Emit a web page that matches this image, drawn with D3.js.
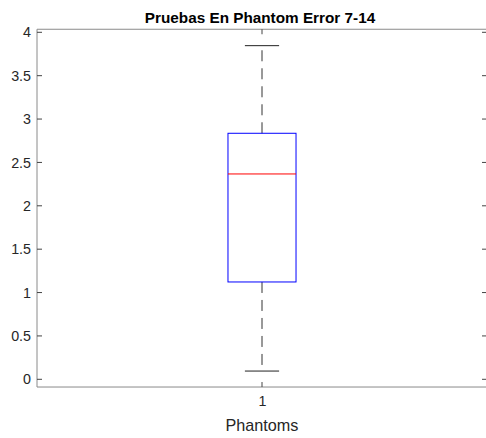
<!DOCTYPE html>
<html>
<head>
<meta charset="utf-8">
<script src="https://cdn.jsdelivr.net/npm/d3@7"></script>
<style>
	body { margin: 0; background: #fff; }
	svg { display: block; font-family: 'Liberation Sans', Arial, sans-serif; }
</style>
</head>
<body>
<div id="chart"></div>
<script>
'use strict';

// box plot values
var categories = ['1'];
var whiskerLow = [0.095];
var quartile1 = [1.122];
var medians = [2.367];
var quartile3 = [2.836];
var whiskerHigh = [3.846];

var yTicks = [0, 0.5, 1, 1.5, 2, 2.5, 3, 3.5, 4];
var yLimits = [-0.089, 4.035];
var xLimits = [0.5, 1.5];

var width = 486;
var height = 438;

var svg = d3.select('#chart').append('svg')
	.attr('width', width)
	.attr('height', height);

var x = d3.scaleLinear().domain(xLimits).range([37, 487]);
var y = d3.scaleLinear().domain([0, 4]).range([379.3, 32.3]);

var frameTop = y(yLimits[1]);
var frameBottom = y(yLimits[0]);
var axisColor = '#8a8a8a';
var textColor = '#262626';
var tickFont = '14.3px';

// frame
svg.append('line').attr('x1', x(xLimits[0])).attr('x2', x(xLimits[1]))
	.attr('y1', frameTop).attr('y2', frameTop).attr('stroke', axisColor);
svg.append('line').attr('x1', x(xLimits[0])).attr('x2', x(xLimits[1]))
	.attr('y1', frameBottom).attr('y2', frameBottom).attr('stroke', axisColor);
svg.append('line').attr('x1', x(xLimits[0])).attr('x2', x(xLimits[0]))
	.attr('y1', frameTop).attr('y2', frameBottom).attr('stroke', axisColor);

// y ticks, inward on both sides
var yAxis = d3.axisLeft(y).tickValues(yTicks).tickSize(0).tickPadding(0)
	.tickFormat(function (d) { return d; });

var yAxisGroup = svg.append('g')
	.attr('transform', 'translate(' + (x(xLimits[0]) - 6) + ',0)')
	.call(yAxis);
yAxisGroup.select('.domain').remove();
yAxisGroup.selectAll('text')
	.attr('fill', textColor)
	.style('font-size', tickFont)
	.style('font-family', "'Liberation Sans', Arial, sans-serif");

svg.selectAll('line.ytick-left').data(yTicks).enter().append('line')
	.attr('class', 'ytick-left')
	.attr('x1', x(xLimits[0])).attr('x2', x(xLimits[0]) + 5)
	.attr('y1', function (d) { return y(d); })
	.attr('y2', function (d) { return y(d); })
	.attr('stroke', '#444');

svg.selectAll('line.ytick-right').data(yTicks).enter().append('line')
	.attr('class', 'ytick-right')
	.attr('x1', x(xLimits[1]) - 5).attr('x2', x(xLimits[1]))
	.attr('y1', function (d) { return y(d); })
	.attr('y2', function (d) { return y(d); })
	.attr('stroke', '#444');

// x tick
var xAxis = d3.axisBottom(x).tickValues([1]).tickSize(0).tickPadding(0)
	.tickFormat(function (d, i) { return categories[i]; });

var xAxisGroup = svg.append('g')
	.attr('transform', 'translate(0,' + (frameBottom + 9) + ')')
	.call(xAxis);
xAxisGroup.select('.domain').remove();
xAxisGroup.selectAll('text')
	.attr('fill', textColor)
	.style('font-size', tickFont)
	.style('font-family', "'Liberation Sans', Arial, sans-serif");

svg.append('line').attr('x1', x(1)).attr('x2', x(1))
	.attr('y1', frameBottom).attr('y2', frameBottom - 5).attr('stroke', '#444');
svg.append('line').attr('x1', x(1)).attr('x2', x(1))
	.attr('y1', frameTop).attr('y2', frameTop + 5).attr('stroke', '#444');

// boxes
var boxHalf = 0.0756;
var capHalf = 0.038;

var box = svg.selectAll('.box').data(categories).enter().append('g').attr('class', 'box');

box.append('line') // upper whisker
	.attr('x1', function (d, i) { return x(i + 1); })
	.attr('x2', function (d, i) { return x(i + 1); })
	.attr('y1', function (d, i) { return y(quartile3[i]); })
	.attr('y2', function (d, i) { return y(whiskerHigh[i]); })
	.attr('stroke', '#333').attr('stroke-dasharray', '11,7');

box.append('line') // lower whisker
	.attr('x1', function (d, i) { return x(i + 1); })
	.attr('x2', function (d, i) { return x(i + 1); })
	.attr('y1', function (d, i) { return y(quartile1[i]); })
	.attr('y2', function (d, i) { return y(whiskerLow[i]); })
	.attr('stroke', '#333').attr('stroke-dasharray', '11,7');

box.append('line') // upper cap
	.attr('x1', function (d, i) { return x(i + 1 - capHalf); })
	.attr('x2', function (d, i) { return x(i + 1 + capHalf); })
	.attr('y1', function (d, i) { return y(whiskerHigh[i]); })
	.attr('y2', function (d, i) { return y(whiskerHigh[i]); })
	.attr('stroke', '#222');

box.append('line') // lower cap
	.attr('x1', function (d, i) { return x(i + 1 - capHalf); })
	.attr('x2', function (d, i) { return x(i + 1 + capHalf); })
	.attr('y1', function (d, i) { return y(whiskerLow[i]); })
	.attr('y2', function (d, i) { return y(whiskerLow[i]); })
	.attr('stroke', '#222');

box.append('rect')
	.attr('x', function (d, i) { return x(i + 1 - boxHalf); })
	.attr('width', function (d, i) { return x(i + 1 + boxHalf) - x(i + 1 - boxHalf); })
	.attr('y', function (d, i) { return y(quartile3[i]); })
	.attr('height', function (d, i) { return y(quartile1[i]) - y(quartile3[i]); })
	.attr('fill', 'none').attr('stroke', '#0000ff');

box.append('line') // median
	.attr('x1', function (d, i) { return x(i + 1 - boxHalf); })
	.attr('x2', function (d, i) { return x(i + 1 + boxHalf); })
	.attr('y1', function (d, i) { return y(medians[i]); })
	.attr('y2', function (d, i) { return y(medians[i]); })
	.attr('stroke', '#ff0000');

// labels
svg.append('text')
	.attr('x', 260).attr('y', 22.5)
	.attr('text-anchor', 'middle')
	.attr('font-weight', 'bold')
	.attr('font-size', '15.3px')
	.attr('fill', '#000')
	.text('Pruebas En Phantom Error 7-14');

svg.append('text')
	.attr('x', x(1)).attr('y', 431)
	.attr('text-anchor', 'middle')
	.attr('font-size', '16.2px')
	.attr('fill', textColor)
	.text('Phantoms');
</script>
</body>
</html>
